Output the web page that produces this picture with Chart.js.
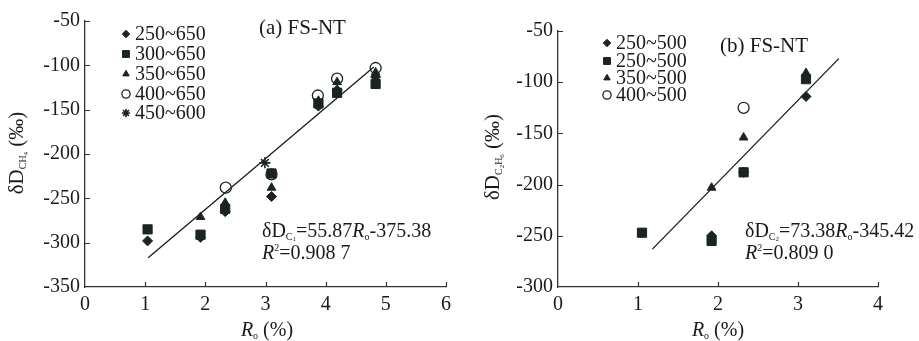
<!DOCTYPE html>
<html>
<head>
<meta charset="utf-8">
<script src="https://cdn.jsdelivr.net/npm/chart.js@4.4.0/dist/chart.umd.min.js"></script>
<style>
html,body{margin:0;padding:0;background:#fff;overflow:hidden}
#wrap{position:relative;width:919px;height:341px}
.box{position:absolute;top:0;height:341px}
#boxA{left:0;width:460px}
#boxB{left:460px;width:459px}
</style>
</head>
<body>
<div id="wrap">
  <div class="box" id="boxA"><canvas id="chartA" width="460" height="341"></canvas></div>
  <div class="box" id="boxB"><canvas id="chartB" width="459" height="341"></canvas></div>
</div>
<script>
// (a) deltaD of CH4 vs Ro, temperature ranges
const a_names = ['250~650', '300~650', '350~650', '400~650', '450~600'];
const a_s250 = [[1.04,-298],[1.92,-294],[2.33,-265],[3.1,-248],[3.88,-146],[4.19,-128],[4.83,-113]];
const a_s300 = [[1.04,-285],[1.92,-291],[2.33,-262],[3.1,-222],[3.88,-143],[4.19,-131],[4.83,-121]];
const a_s350 = [[1.92,-271],[2.33,-255],[3.1,-238],[3.88,-140],[4.19,-119],[4.83,-108]];
const a_s400 = [[2.34,-238],[3.1,-223],[3.87,-134],[4.19,-115],[4.83,-103]];
const a_s450 = [[2.99,-210]];
const a_fit = [[1.05,-317],[4.8,-102]];
const a_xTicks = [0, 6, 1];
const a_yTicks = [-350, -50, 50];

// (b) deltaD of C2H6 vs Ro
const b_names = ['250~500', '250~500', '350~500', '400~500'];
const b_s250 = [[1.92,-250],[2.32,-188],[3.1,-114]];
const b_s250b = [[1.05,-247],[1.92,-255],[2.32,-188],[3.1,-97]];
const b_s350 = [[1.92,-203],[2.32,-154],[3.1,-91]];
const b_s400 = [[2.32,-125]];
const b_fit = [[1.18,-263],[3.51,-77]];
const b_xTicks = [0, 4, 1];
const b_yTicks = [-300, -50, 50];

const FONT = '"Liberation Serif", "Times New Roman", serif';
const INK = '#1b2424';
const TXT = '#1a1a1a';

const pts = arr => arr.map(p => ({x: p[0], y: p[1]}));

const styles = {
  diamond: {pointStyle: 'rectRot', radius: 5, fill: INK, bw: 1},
  square:  {pointStyle: 'rect', radius: 6.5, fill: INK, bw: 1},
  tri:     {pointStyle: 'triangle', radius: 5, fill: INK, bw: 1},
  circle:  {pointStyle: 'circle', radius: 5.5, fill: 'rgba(0,0,0,0)', bw: 1.3},
  star:    {pointStyle: 'star', radius: 5.5, fill: INK, bw: 1.6}
};

function series(label, data, st){
  const s = styles[st];
  return {
    label: label,
    data: pts(data),
    pointStyle: s.pointStyle,
    pointRadius: s.radius,
    pointBackgroundColor: s.fill,
    pointBorderColor: INK,
    pointBorderWidth: s.bw,
    showLine: false,
    _st: st
  };
}

function fitLine(data){
  return {label: 'fit', data: pts(data), showLine: true, pointRadius: 0,
          borderColor: '#1a1a1a', borderWidth: 1.3, fill: false, _st: null};
}

// text with sub / superscripts: parts = [text, size, italic, dy]
function richText(ctx, parts, x, y, center, rot){
  ctx.save();
  ctx.translate(x, y);
  if (rot) ctx.rotate(rot);
  ctx.textBaseline = 'alphabetic';
  ctx.textAlign = 'left';
  ctx.fillStyle = TXT;
  let w = 0;
  parts.forEach(p => {
    ctx.font = (p[2] ? 'italic ' : '') + p[1] + 'px ' + FONT;
    p.w = ctx.measureText(p[0]).width;
    w += p.w;
  });
  let cx = center ? -w / 2 : 0;
  parts.forEach(p => {
    ctx.font = (p[2] ? 'italic ' : '') + p[1] + 'px ' + FONT;
    ctx.fillText(p[0], cx, p[3] || 0);
    cx += p.w;
  });
  ctx.restore();
}

const inTicks = {
  id: 'inTicks',
  afterDraw(chart){
    const ctx = chart.ctx, ca = chart.chartArea;
    const xs = chart.scales.x, ys = chart.scales.y;
    ctx.save();
    ctx.strokeStyle = '#333';
    ctx.lineWidth = 1.2;
    ctx.beginPath();
    xs.ticks.forEach(t => {
      const px = Math.round(xs.getPixelForValue(t.value)) + 0.5;
      if (t.value === xs.min) return;
      ctx.moveTo(px, ca.bottom); ctx.lineTo(px, ca.bottom - 5);
    });
    ys.ticks.forEach(t => {
      const py = Math.round(ys.getPixelForValue(t.value)) + 0.5;
      if (t.value === ys.min) return;
      ctx.moveTo(ca.left, py); ctx.lineTo(ca.left + 5, py);
    });
    ctx.stroke();
    ctx.restore();
  }
};

const overlay = {
  id: 'overlay',
  afterDraw(chart){
    const o = chart.options.plugins.overlay;
    const ctx = chart.ctx;
    // legend
    ctx.save();
    chart.data.datasets.forEach((ds, i) => {
      if (!ds._st) return;
      const s = styles[ds._st];
      const y = o.legY[i];
      ctx.fillStyle = s.fill;
      ctx.strokeStyle = INK;
      ctx.lineWidth = s.bw;
      Chart.helpers.drawPoint(ctx, {pointStyle: s.pointStyle, radius: s.radius * 0.75, borderWidth: s.bw, rotation: 0}, o.legX, y);
      ctx.fillStyle = TXT;
      ctx.font = '20px ' + FONT;
      ctx.textBaseline = 'middle';
      ctx.fillText(ds.label, o.legX + 9, y + 1);
    });
    ctx.restore();
    // panel title
    richText(ctx, [[o.title, 21, false, 0]], o.titleX, o.titleY, false);
    // equation
    richText(ctx, [['δD', 20, false, 0], ['C', 10, false, 3], [o.sub, 7, false, 4],
                   ['=' + o.k, 20, false, 0], ['R', 20, true, 0], ['o', 10, false, 3],
                   [o.b, 20, false, 0]], o.eqX, o.eqY, false);
    richText(ctx, [['R', 20, true, 0], ['2', 10, false, -8], ['=' + o.r2, 20, false, 0]], o.eqX, o.eqY + 22, false);
    // axis titles
    richText(ctx, [['R', 20, true, 0], ['o', 10, false, 3], [' (%)', 20, false, 0]], o.xtX, 336, true);
    richText(ctx, o.yParts, o.ytX, o.ytY, true, -Math.PI / 2);
  }
};

function axis(range, size, isX){
  const a = {
    type: 'linear',
    min: range[0], max: range[1],
    ticks: {stepSize: range[2], color: TXT, padding: isX ? 6 : 5,
            font: {family: FONT, size: 20}},
    grid: {drawOnChartArea: false, drawTicks: false},
    border: {color: '#333', width: 1.3}
  };
  if (isX) a.afterFit = s => { s.height = size; };
  else a.afterFit = s => { s.width = size; };
  return a;
}

function makeChart(id, datasets, xr, yr, pad, ywidth, ov){
  new Chart(document.getElementById(id), {
    type: 'scatter',
    data: {datasets: datasets},
    options: {
      responsive: false,
      animation: false,
      devicePixelRatio: 1,
      layout: {padding: pad},
      scales: {x: axis(xr, 54, true), y: axis(yr, ywidth, false)},
      plugins: {legend: {display: false}, tooltip: {enabled: false}, overlay: ov}
    },
    plugins: [inTicks, overlay]
  });
}

makeChart('chartA', [
  series(a_names[0], a_s250, 'diamond'),
  series(a_names[1], a_s300, 'square'),
  series(a_names[2], a_s350, 'tri'),
  series(a_names[3], a_s400, 'circle'),
  series(a_names[4], a_s450, 'star'),
  fitLine(a_fit)
], a_xTicks, a_yTicks, {left: 0, top: 21, right: 14, bottom: 0}, 85, {
  legX: 126, legY: [34, 54, 74, 94, 113],
  title: '(a) FS-NT', titleX: 259, titleY: 34,
  sub: '1', k: '55.87', b: '-375.38', r2: '0.908 7', eqX: 262, eqY: 237,
  xtX: 267, ytX: 23, ytY: 153,
  yParts: [['δD', 21, false, 0], ['CH', 10, false, 3], ['4', 7, false, 5], [' (‰)', 21, false, 0]]
});

makeChart('chartB', [
  series(b_names[0], b_s250, 'diamond'),
  series(b_names[1], b_s250b, 'square'),
  series(b_names[2], b_s350, 'tri'),
  series(b_names[3], b_s400, 'circle'),
  fitLine(b_fit)
], b_xTicks, b_yTicks, {left: 0, top: 31, right: 41, bottom: 0}, 98, {
  legX: 147, legY: [43, 61, 78, 95],
  title: '(b) FS-NT', titleX: 260, titleY: 52,
  sub: '2', k: '73.38', b: '-345.42', r2: '0.809 0', eqX: 285, eqY: 237,
  xtX: 258, ytX: 39, ytY: 157,
  yParts: [['δD', 21, false, 0], ['C', 10, false, 3], ['2', 7, false, 5], ['H', 10, false, 3], ['6', 7, false, 5], [' (‰)', 21, false, 0]]
});
</script>
</body>
</html>
